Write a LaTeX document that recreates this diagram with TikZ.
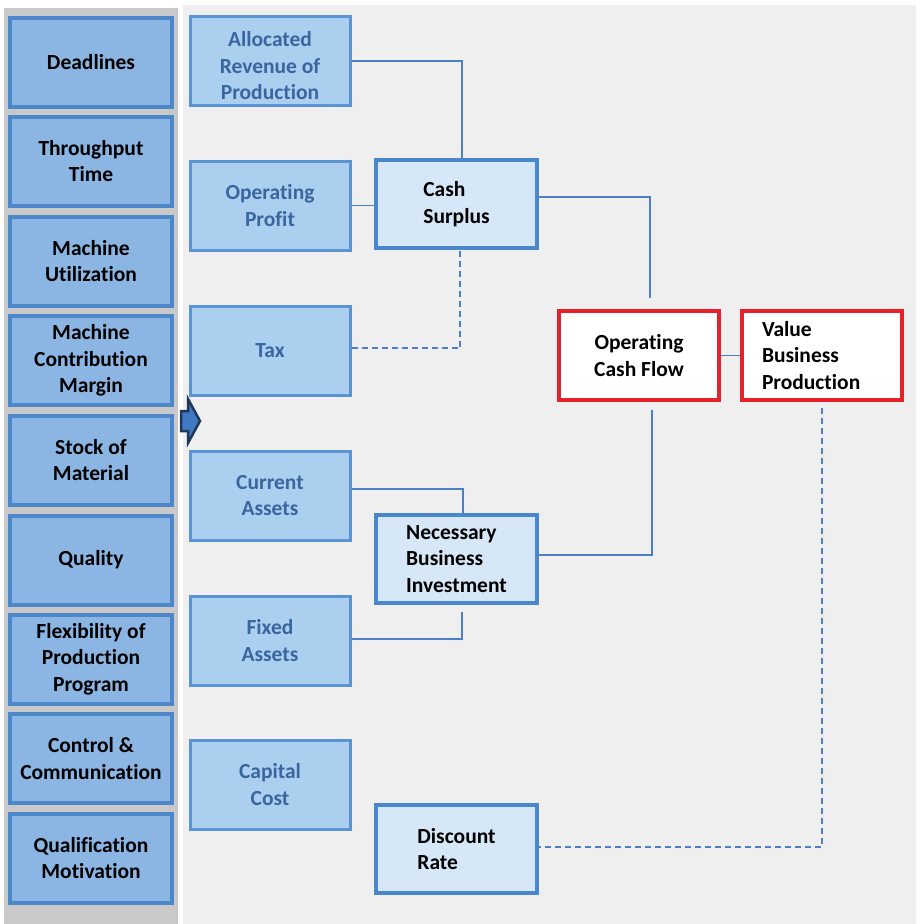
\documentclass[tikz,border=0pt]{standalone}
\usepackage{fontspec}
\setmainfont{Carlito}[Ligatures=NoCommon]
\definecolor{leftfill}{HTML}{8BB6E3}
\definecolor{leftdraw}{HTML}{4C87C9}
\definecolor{midfill}{HTML}{ABCFEF}
\definecolor{middraw}{HTML}{5A94D4}
\definecolor{midtext}{HTML}{3A66A0}
\definecolor{rightfill}{HTML}{D6E8F8}
\definecolor{rightdraw}{HTML}{4A86CA}
\definecolor{redbox}{HTML}{E8202A}
\definecolor{linecol}{HTML}{4C80C6}
\definecolor{panelgray}{HTML}{C9C9C9}
\definecolor{panellight}{HTML}{EFEFEF}
\definecolor{navy}{HTML}{1D365A}
\definecolor{arrowfill}{HTML}{3F79C2}
\begin{document}
\begin{tikzpicture}[x=1pt,y=-1pt,
  every node/.style={font=\fontsize{21.5}{26.5}\selectfont\bfseries},
  leftbox/.style={draw=leftdraw,fill=leftfill,line width=4pt,minimum width=162pt,minimum height=89pt,align=center,inner sep=0pt,text=black},
  midbox/.style={draw=middraw,fill=midfill,line width=3pt,minimum width=160pt,minimum height=89pt,align=center,inner sep=0pt,text=midtext},
  midtxt/.style={align=center,inner sep=0pt,text=midtext},
  rightbox/.style={draw=rightdraw,fill=rightfill,line width=3.5pt,minimum width=161pt,minimum height=88pt,align=left,inner sep=0pt,text=black},
  rednode/.style={draw=redbox,fill=white,line width=3.5pt,minimum width=160pt,minimum height=89pt,inner sep=0pt,text=black},
  conn/.style={draw=linecol,line width=1.4pt},
  dconn/.style={conn,dash pattern=on 6pt off 4pt}
]
\useasboundingbox (0,0) rectangle (919,924);
\fill[white] (0,0) rectangle (919,924);
\fill[panelgray] (4,8) rectangle (178,924);
\fill[panellight] (183,5) rectangle (916,924);

% left column
\node[leftbox] (l1) at (91,62.5) {Deadlines};
\node[leftbox] (l2) at (91,161) {Throughput\\Time};
\node[leftbox] (l3) at (91,261) {Machine\\Utilization};
\node[leftbox] (l4) at (91,360.5) {Machine\\Contribution\\Margin};
\node[leftbox] (l5) at (91,460) {Stock of\\Material};
\node[leftbox] (l6) at (91,560) {Quality};
\node[leftbox] (l7) at (91,659) {Flexibility of\\Production\\Program};
\node[leftbox] (l8) at (91,758.5) {Control \&\\Communication};
\node[leftbox] (l9) at (91,858) {Qualification\\Motivation};

% arrow
\draw[navy,line width=2.5pt,fill=arrowfill,line join=miter]
  (181,411) -- (188,411) -- (188,399) -- (200,421) -- (188,443) -- (188,431) -- (181,431) -- cycle;

% middle column
\node[midbox] (alloc) at (270,61) {};
\node[midtxt] (alloct) at (270,66) {Allocated\\Revenue of\\Production};
\node[midbox] (op) at (270,205.5) {Operating\\Profit};
\node[midbox] (tax) at (270,350.5) {Tax};
\node[midbox] (ca) at (270,495.5) {Current\\Assets};
\node[midbox] (fa) at (270,640.5) {Fixed\\Assets};
\node[midbox] (cc) at (270,784.5) {Capital\\Cost};

% right boxes
\node[rightbox] (cash) at (456.5,204) {Cash\\Surplus};
\node[rightbox] (nbi) at (456.5,559) {Necessary\\Business\\Investment};
\node[rightbox] (disc) at (456.5,849) {Discount\\Rate};

\node[rednode,align=center] (ocf) at (639,355.5) {Operating\\Cash Flow};
\node[rednode,text width=120pt,align=left] (vbp) at (822,355.5) {Value\\Business\\Production};

% connectors
\coordinate (c1) at (462,61);
\draw[conn] (alloc.east |- c1) -- (c1) -- (c1 |- cash.north);
\draw[conn] (op.east) -- (cash.west |- op.east);
\coordinate (c2) at (460,348);
\draw[dconn] (tax.east |- c2) -- (c2) -- ([yshift=4pt]c2 |- cash.south);
\coordinate (c3) at (650,197);
\coordinate (c3e) at (650,298);
\draw[conn] (cash.east |- c3) -- (c3) -- (c3e);
\draw[conn] (ocf.east) -- (vbp.west);
\coordinate (c4) at (652,410);
\coordinate (c5) at (652,555);
\draw[conn] (c4) -- (c5) -- (nbi.east |- c5);
\coordinate (c6) at (463,489);
\draw[conn] (ca.east |- c6) -- (c6) -- (c6 |- nbi.north);
\coordinate (c7) at (462,639);
\coordinate (c7e) at (462,612);
\draw[conn] (fa.east |- c7) -- (c7) -- (c7e);
\coordinate (c8) at (822,408);
\coordinate (c9) at (822,847);
\draw[dconn] (c8) -- (c9) -- (disc.east |- c9);
\end{tikzpicture}
\end{document}
